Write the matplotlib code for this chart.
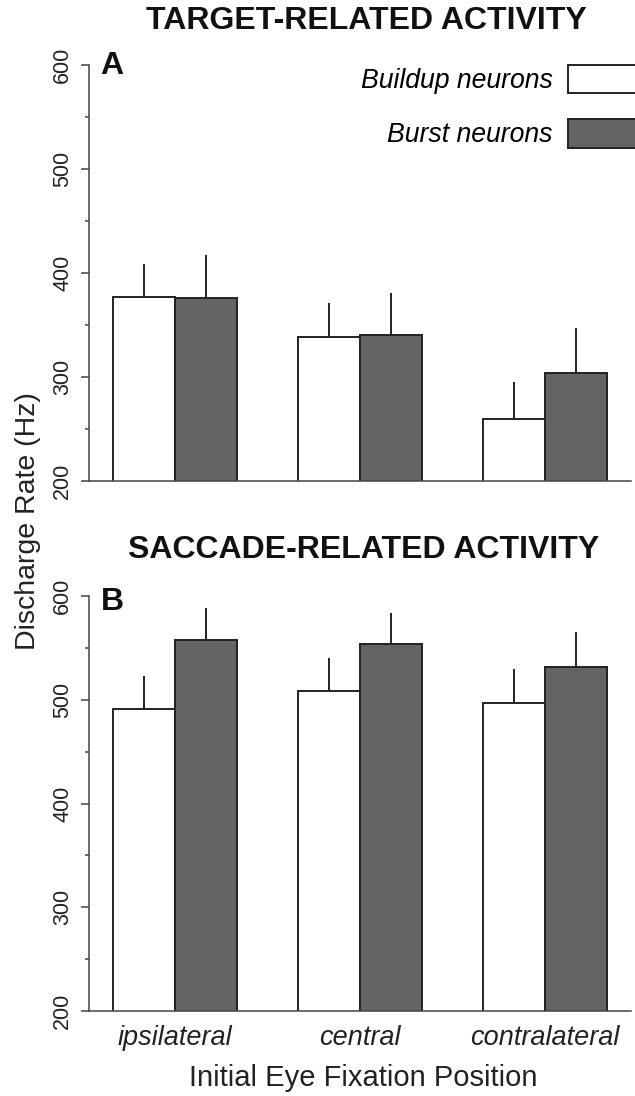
import matplotlib
matplotlib.use("Agg")
import matplotlib.pyplot as plt
import numpy as np
from matplotlib.patches import Patch
from matplotlib.ticker import MultipleLocator

plt.rcParams['font.family'] = ['Liberation Sans', 'DejaVu Sans']

categories = ["ipsilateral", "central", "contralateral"]
series_names = ["Buildup neurons", "Burst neurons"]

target_buildup = [377, 338, 259]
target_buildup_err = [31.5, 33, 36]
target_burst = [375.5, 340.5, 303.5]
target_burst_err = [41.5, 40.5, 43]

saccade_buildup = [491, 508, 497]
saccade_buildup_err = [32, 32, 33]
saccade_burst = [558, 554, 532]
saccade_burst_err = [30, 30, 33]

yticks = [200, 300, 400, 500, 600]

W, H = 635, 1096
fig = plt.figure(figsize=(W / 100, H / 100), dpi=100)

left = 89.3 / W
width = (631 - 89.3) / W
ax_top = fig.add_axes([left, 1 - 480.7 / H, width, (480.7 - 65) / H])
ax_bot = fig.add_axes([left, 1 - 1011 / H, width, (1011 - 596) / H])

white = "#ffffff"
dark = "#646464"
edge = "#222222"
axcol = "#444444"
bar_w = 0.333
x = np.arange(len(categories))

def draw(ax, b, be, s, se, show_xlabels):
    ax.bar(x - bar_w / 2, b, bar_w, color=white, edgecolor=edge, linewidth=1.4, zorder=2)
    ax.bar(x + bar_w / 2, s, bar_w, color=dark, edgecolor=edge, linewidth=1.4, zorder=2)
    ax.errorbar(x - bar_w / 2, b, yerr=[np.zeros(len(be)), be], fmt='none', ecolor=edge,
                elinewidth=1.4, capsize=0, zorder=1)
    ax.errorbar(x + bar_w / 2, s, yerr=[np.zeros(len(se)), se], fmt='none', ecolor=edge,
                elinewidth=1.4, capsize=0, zorder=1)
    ax.set_ylim(200, 600)
    ax.set_xlim(-0.463, 2.465)
    for sp in ["top", "right"]:
        ax.spines[sp].set_visible(False)
    for sp in ["left", "bottom"]:
        ax.spines[sp].set_color(axcol)
        ax.spines[sp].set_linewidth(1.1)
    ax.set_yticks(yticks)
    ax.set_yticklabels([str(t) for t in yticks], rotation=90, va="center", fontsize=15.5, color="#222222")
    ax.yaxis.set_minor_locator(MultipleLocator(50))
    ax.tick_params(axis="y", which="major", length=5.5, width=1.1, color=axcol, pad=6)
    ax.tick_params(axis="y", which="minor", length=3, width=1.1, color=axcol)
    ax.set_xticks(x)
    if show_xlabels:
        ax.set_xticklabels(categories, fontsize=19.5, style="italic", color="#222222")
    else:
        ax.set_xticklabels([])
    ax.tick_params(axis="x", length=0, pad=10)

draw(ax_top, target_buildup, target_buildup_err, target_burst, target_burst_err, False)
draw(ax_bot, saccade_buildup, saccade_buildup_err, saccade_burst, saccade_burst_err, True)

handles = [Patch(facecolor=white, edgecolor=edge, linewidth=1.4),
           Patch(facecolor=dark, edgecolor=edge, linewidth=1.4)]
leg = ax_top.legend(handles, series_names, loc="upper right", bbox_to_anchor=(1.011, 1.0),
                    frameon=False, markerfirst=False, prop={"size": 19.2, "style": "italic"},
                    handlelength=2.6, handleheight=1.25, handletextpad=0.55,
                    labelspacing=0.95, borderaxespad=0, borderpad=0)
leg.set_clip_on(False)

fig.text(366 / W, 1 - 21 / H, "TARGET-RELATED ACTIVITY", fontsize=23, fontweight="bold",
         ha="center", va="center", color="#111111")
fig.text(364 / W, 1 - 550 / H, "SACCADE-RELATED ACTIVITY", fontsize=23, fontweight="bold",
         ha="center", va="center", color="#111111")
fig.text(100 / W, 1 - 66.5 / H, "A", fontsize=23, fontweight="bold", ha="left", va="center", color="#111111")
fig.text(101 / W, 1 - 601.5 / H, "B", fontsize=23, fontweight="bold", ha="left", va="center", color="#111111")
fig.text(28 / W, 1 - 521 / H, "Discharge Rate (Hz)", fontsize=20.5, rotation=90,
         ha="center", va="center", color="#222222")
fig.text(363 / W, 1 - 1078 / H, "Initial Eye Fixation Position", fontsize=21,
         ha="center", va="center", color="#222222")

fig.savefig("out.png", dpi=100)
